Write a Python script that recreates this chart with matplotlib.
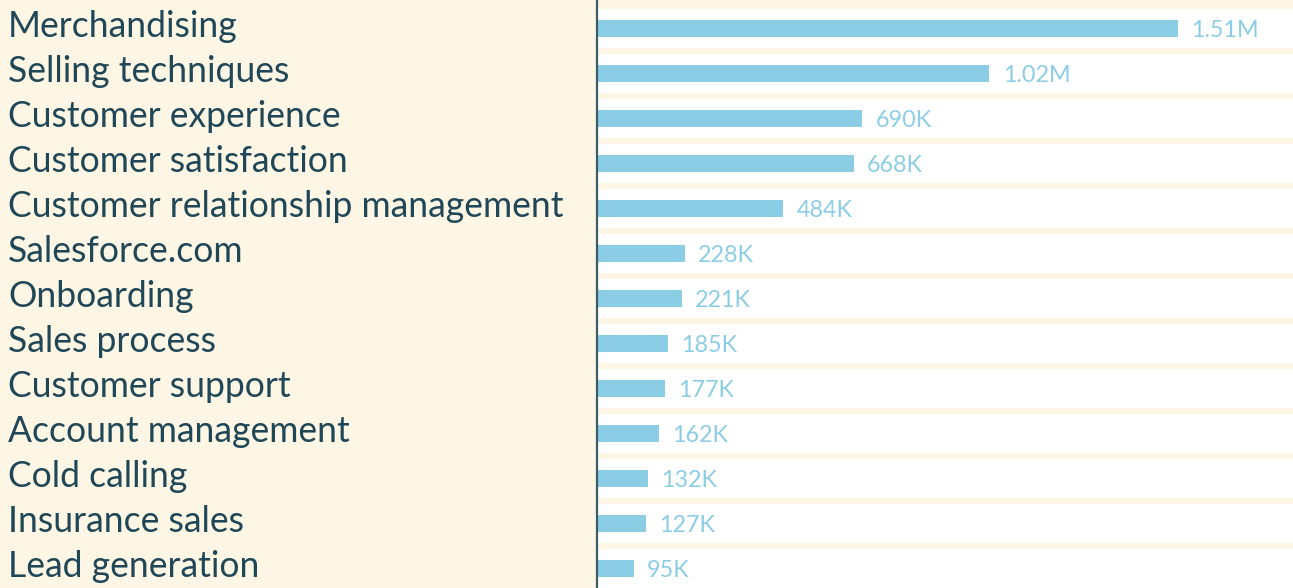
import matplotlib
matplotlib.use("Agg")
import matplotlib.pyplot as plt
from matplotlib.transforms import blended_transform_factory

categories = ["Merchandising", "Selling techniques", "Customer experience",
              "Customer satisfaction", "Customer relationship management",
              "Salesforce.com", "Onboarding", "Sales process", "Customer support",
              "Account management", "Cold calling", "Insurance sales", "Lead generation"]
values = [1510000, 1020000, 690000, 668000, 484000, 228000, 221000, 185000,
          177000, 162000, 132000, 127000, 95000]
value_labels = ["1.51M", "1.02M", "690K", "668K", "484K", "228K", "221K", "185K",
                "177K", "162K", "132K", "127K", "95K"]

CREAM = "#fdf6e4"
BAR = "#8ccde6"
TEXT = "#1f4757"
AXIS = "#3e5c68"

W, H = 1293, 588
fig = plt.figure(figsize=(W / 100, H / 100), dpi=100, facecolor=CREAM)
left = 597 / W
ax = fig.add_axes([left, 0, 1 - left, 1], facecolor="white")

n = len(categories)
ypos = list(range(n))
ax.barh(ypos, values, height=0.37, color=BAR, zorder=3)

# stripes at row boundaries
hw = 0.075
for i in range(n + 1):
    lo = i - 0.5 - hw
    if i == 0:
        lo = -1.0
    ax.axhspan(lo, i - 0.5 + hw, color=CREAM, lw=0, zorder=1)

ax.set_ylim(12.433, -0.633)
ax.set_xlim(0, 1.51e6 / (581 / 696))

for s in ["top", "right", "bottom"]:
    ax.spines[s].set_visible(False)
ax.spines["left"].set_color(AXIS)
ax.spines["left"].set_linewidth(1.6)
ax.spines["left"].set_zorder(5)
ax.set_xticks([])
ax.set_yticks([])

trans = blended_transform_factory(fig.transFigure, ax.transData)
for y, cat in zip(ypos, categories):
    ax.text(8 / W, y + 0.19, cat, transform=trans, ha="left", va="baseline",
            fontsize=25.6, color=TEXT, family="Lato", clip_on=False)

for y, v, lab in zip(ypos, values, value_labels):
    ax.annotate(lab, xy=(v, y + 0.195), xytext=(9.5, 0), textcoords="offset points",
                ha="left", va="baseline", fontsize=16.8, color=BAR,
                family="Lato", zorder=4)

fig.savefig("out.png", dpi=100, facecolor=CREAM)
